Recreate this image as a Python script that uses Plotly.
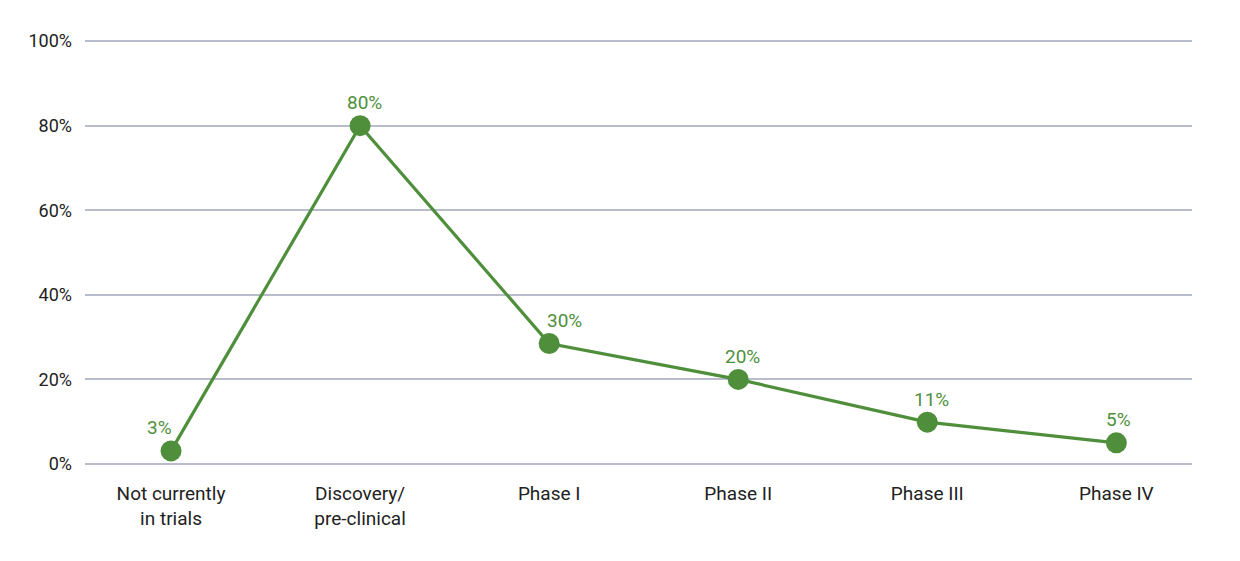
import plotly.graph_objects as go

categories = ["Not currently<br>in trials", "Discovery/<br>pre-clinical", "Phase I", "Phase II", "Phase III", "Phase IV"]
values = [3.1, 80, 28.5, 20, 9.9, 5.0]
value_labels = ["3%", "80%", "30%", "20%", "11%", "5%"]
y_ticks = [0, 20, 40, 60, 80, 100]
y_tick_labels = ["0%", "20%", "40%", "60%", "80%", "100%"]

green = "#4f8f3c"
grid = "#b9bccd"
label_dx = [-12, 4, 15, 4, 4, 2]  # horizontal nudge of value labels (px)

fig = go.Figure(go.Scatter(
    x=categories, y=values,
    mode="lines+markers",
    line=dict(color=green, width=3.2),
    marker=dict(color=green, size=21),
    cliponaxis=False,
    hoverinfo="skip",
))

for c, v, t, dx in zip(categories, values, value_labels, label_dx):
    fig.add_annotation(
        x=c, y=v, text=t, showarrow=False,
        xshift=dx, yshift=23,
        font=dict(color=green, size=19, family="Roboto"),
    )

fig.update_layout(
    width=1240, height=561,
    margin=dict(l=77, r=56, t=32, b=105),
    paper_bgcolor="white", plot_bgcolor="white",
    font=dict(family="Roboto", size=18, color="#222222"),
    showlegend=False,
)
fig.update_xaxes(
    type="category", range=[-0.455, 5.40],
    showgrid=False, zeroline=False, showline=False,
    ticks="", ticklabelstandoff=16, tickfont=dict(size=19, color="#222222"),
)
fig.update_yaxes(
    range=[0, 100.25], tickvals=y_ticks, ticktext=y_tick_labels,
    showgrid=True, gridcolor=grid, gridwidth=1.5,
    zeroline=True, zerolinecolor=grid, zerolinewidth=1.5,
    showline=False, ticks="", ticklabelstandoff=12,
    tickfont=dict(size=18, color="#222222"),
)

fig.write_html("out.html")
